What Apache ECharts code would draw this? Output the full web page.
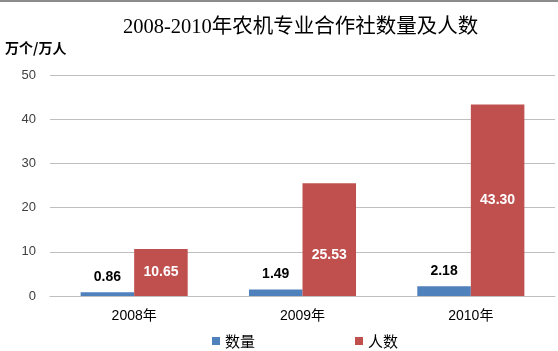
<!DOCTYPE html>
<html>
<head>
<meta charset="utf-8">
<script src="https://cdn.jsdelivr.net/npm/echarts@6/dist/echarts.min.js"></script>
<style>
  html, body { margin: 0; padding: 0; background: #fff; }
  #topline { position: absolute; left: 0; top: 0; width: 558px; height: 2px; background: #8c8c8c; }
  #main { width: 558px; height: 351px; }
</style>
</head>
<body>
<div id="topline"></div>
<div id="main"></div>
<script>
var years = ["2008年", "2009年", "2010年"];
var countData = [0.86, 1.49, 2.18];   // 数量（万个）
var peopleData = [10.65, 25.53, 43.30]; // 人数（万人）
var yTicks = [0, 10, 20, 30, 40, 50];

var myChart = echarts.init(document.getElementById("main"));

var option = {
  animation: false,
  title: {
    text: "2008-2010年农机专业合作社数量及人数",
    left: 118,
    top: 12,
    textStyle: {
      fontFamily: "Liberation Serif, Noto Sans CJK SC",
      fontSize: 20.5,
      fontWeight: "normal",
      color: "#000"
    }
  },
  legend: {
    data: ["数量", "人数"],
    left: 212,
    top: 333,
    padding: 0,
    itemWidth: 8,
    itemHeight: 8,
    itemGap: 100,
    icon: "rect",
    textStyle: { fontSize: 15, lineHeight: 16, color: "#000", fontFamily: "Noto Sans CJK SC" }
  },
  grid: {
    left: 50,
    right: 3,
    top: 75,
    bottom: 55
  },
  xAxis: {
    type: "category",
    data: years,
    axisTick: { show: false },
    axisLine: { lineStyle: { color: "#bfbfbf" } },
    axisLabel: {
      fontSize: 14,
      color: "#000",
      margin: 13,
      fontFamily: "Liberation Sans, Noto Sans CJK SC"
    }
  },
  yAxis: {
    type: "value",
    min: yTicks[0],
    max: yTicks[yTicks.length - 1],
    interval: 10,
    name: "万个/万人",
    nameLocation: "end",
    nameGap: 20,
    nameTextStyle: {
      align: "left",
      padding: [0, 0, 0, -45],
      fontSize: 14,
      fontWeight: "bold",
      color: "#000",
      fontFamily: "Noto Sans CJK SC"
    },
    axisLine: { show: false },
    axisTick: { show: false },
    splitLine: { lineStyle: { color: "#bfbfbf" } },
    axisLabel: {
      fontSize: 13,
      color: "#404040",
      margin: 14,
      fontFamily: "Liberation Sans"
    }
  },
  series: [
    {
      name: "数量",
      type: "bar",
      data: countData,
      barWidth: "31.8%",
      barGap: "0%",
      itemStyle: { color: "#4F81BD" },
      label: {
        show: true,
        position: "top",
        distance: 8,
        fontSize: 14,
        fontWeight: "bold",
        color: "#000",
        fontFamily: "Liberation Sans",
        formatter: function(p) { return p.value.toFixed(2); }
      }
    },
    {
      name: "人数",
      type: "bar",
      data: peopleData.map(function(v, i) {
        // 2009年标签在图中略偏下
        return i === 1 ? { value: v, label: { offset: [0, 16] } } : v;
      }),
      barWidth: "31.8%",
      barGap: "0%",
      itemStyle: { color: "#C0504D" },
      label: {
        show: true,
        position: "inside",
        fontSize: 14,
        fontWeight: "bold",
        color: "#fff",
        fontFamily: "Liberation Sans",
        formatter: function(p) { return p.value.toFixed(2); }
      }
    }
  ]
};
myChart.setOption(option);
</script>
</body>
</html>
